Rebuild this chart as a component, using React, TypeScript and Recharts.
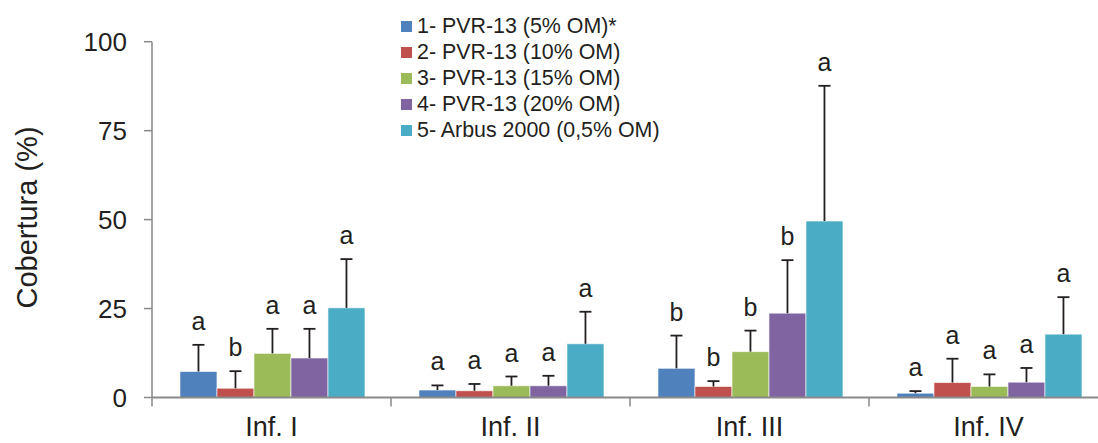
import React from 'react';
import { BarChart, Bar, XAxis, YAxis, Legend, Label } from 'recharts';

const categories = ['Inf. I', 'Inf. II', 'Inf. III', 'Inf. IV'];

const seriesNames = [
  '1- PVR-13 (5% OM)*',
  '2- PVR-13 (10% OM)',
  '3- PVR-13 (15% OM)',
  '4- PVR-13 (20% OM)',
  '5- Arbus 2000 (0,5% OM)',
];
const seriesColors = ['#4f81bd', '#c0504d', '#9bbb59', '#8064a2', '#4bacc6'];

// mean cover (%) per infestation
const pvr5 = [7.3, 2.1, 8.2, 1.2];
const pvr10 = [2.6, 1.9, 3.1, 4.2];
const pvr15 = [12.4, 3.3, 12.9, 3.1];
const pvr20 = [11.1, 3.3, 23.7, 4.3];
const arbus = [25.2, 15.1, 49.6, 17.8];

// standard deviation (upper whisker only)
const pvr5Err = [7.5, 1.3, 9.2, 0.6];
const pvr10Err = [4.8, 1.9, 1.5, 6.7];
const pvr15Err = [6.9, 2.6, 5.9, 3.4];
const pvr20Err = [8.2, 2.8, 14.9, 4.0];
const arbusErr = [13.7, 9.0, 38.0, 10.4];

// Tukey grouping letters
const pvr5Letters = ['a', 'a', 'b', 'a'];
const pvr10Letters = ['b', 'a', 'b', 'a'];
const pvr15Letters = ['a', 'a', 'b', 'a'];
const pvr20Letters = ['a', 'a', 'b', 'a'];
const arbusLetters = ['a', 'a', 'a', 'a'];

const yTicks = [0, 25, 50, 75, 100];

const series = [
  { key: 's1', values: pvr5, errors: pvr5Err, letters: pvr5Letters },
  { key: 's2', values: pvr10, errors: pvr10Err, letters: pvr10Letters },
  { key: 's3', values: pvr15, errors: pvr15Err, letters: pvr15Letters },
  { key: 's4', values: pvr20, errors: pvr20Err, letters: pvr20Letters },
  { key: 's5', values: arbus, errors: arbusErr, letters: arbusLetters },
];

const data = categories.map((name, i) => {
  const row: Record<string, string | number> = { name };
  series.forEach((s) => {
    row[s.key] = s.values[i];
  });
  return row;
});

const FONT = '"Liberation Sans", Arial, sans-serif';
const INK = '#231f20';
const AXIS = '#898989';

type Series = (typeof series)[number];

// bar + one-sided error whisker + significance letter
const makeShape = (s: Series, fill: string) => (props: any) => {
  const { x, y, width, height, index } = props;
  const v = s.values[index];
  const pxPerUnit = v ? height / v : 0;
  const top = y - s.errors[index] * pxPerUnit;
  const cx = x + width / 2;
  return (
    <g>
      <rect x={x} y={y} width={width} height={height} fill={fill} stroke="#ffffff" strokeOpacity={0.6} strokeWidth={1} />
      <line x1={cx} y1={y} x2={cx} y2={top} stroke={INK} strokeWidth={1.8} />
      <line x1={cx - 6} y1={top} x2={cx + 6} y2={top} stroke={INK} strokeWidth={1.8} />
      <text x={cx} y={top - 15} textAnchor="middle" fontSize={25} fontFamily={FONT} fill={INK}>
        {s.letters[index]}
      </text>
    </g>
  );
};

const CategoryTick = (props: any) => {
  const { x, y, payload, index, visibleTicksCount } = props;
  const half = payload.offset ?? 0;
  const last = index === visibleTicksCount - 1;
  return (
    <g>
      <line x1={x - half} y1={y} x2={x - half} y2={y + 9} stroke={AXIS} strokeWidth={1.5} />
      {last && <line x1={x + half} y1={y} x2={x + half} y2={y + 9} stroke={AXIS} strokeWidth={1.5} />}
      <text x={x} y={y + 38.5} textAnchor="middle" fontSize={27} fontFamily={FONT} fill={INK}>
        {payload.value}
      </text>
    </g>
  );
};

const LegendList = (props: any) => {
  const { payload } = props;
  return (
    <ul style={{ margin: 0, padding: 0, listStyle: 'none', fontFamily: FONT, fontSize: 21.4, color: INK }}>
      {payload.map((p: any) => (
        <li key={p.value} style={{ display: 'flex', alignItems: 'center', height: 26, whiteSpace: 'nowrap' }}>
          <span style={{ display: 'inline-block', width: 11, height: 11, background: p.color, marginRight: 5 }} />
          {p.value}
        </li>
      ))}
    </ul>
  );
};

export default function App() {
  return (
    <div style={{ position: 'absolute', left: 0, top: 0, width: 1098, height: 443, overflow: 'hidden', background: '#fff' }}>
      <BarChart
        width={1120}
        height={443}
        data={data}
        margin={{ top: 41.7, right: 12, left: 0, bottom: 0 }}
        barCategoryGap="11.7%"
        barGap={0}
      >
        <XAxis
          dataKey="name"
          height={45.5}
          interval={0}
          tickLine={false}
          tickSize={0}
          tickMargin={0}
          axisLine={{ stroke: AXIS, strokeWidth: 2 }}
          tick={<CategoryTick />}
        />
        <YAxis
          type="number"
          domain={[0, 100]}
          ticks={yTicks}
          width={152}
          tickSize={8}
          tickMargin={17}
          axisLine={{ stroke: AXIS, strokeWidth: 1.5 }}
          tickLine={{ stroke: AXIS, strokeWidth: 1.5 }}
          tick={{ fill: INK, fontSize: 26, fontFamily: FONT }}
        >
          <Label
            content={() => (
              <text
                transform="translate(37,217.5) rotate(-90)"
                textAnchor="middle"
                fontSize={29}
                fontFamily={FONT}
                fill={INK}
              >
                Cobertura (%)
              </text>
            )}
          />
        </YAxis>
        <Legend
          layout="vertical"
          align="center"
          verticalAlign="middle"
          content={<LegendList />}
          wrapperStyle={{ left: 401, top: 13, width: 'auto' }}
        />
        {series.map((s, i) => (
          <Bar
            key={s.key}
            dataKey={s.key}
            name={seriesNames[i]}
            fill={seriesColors[i]}
            shape={makeShape(s, seriesColors[i])}
            isAnimationActive={false}
          />
        ))}
      </BarChart>
    </div>
  );
}
